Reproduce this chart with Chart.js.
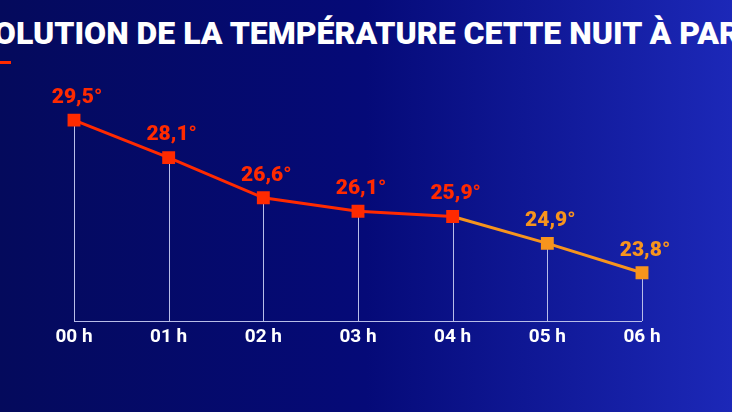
<!DOCTYPE html>
<html><head><meta charset="utf-8">
<script src="https://cdn.jsdelivr.net/npm/chart.js@4"></script>
<style>
html,body{margin:0;padding:0;overflow:hidden;}
body{width:732px;height:412px;background:linear-gradient(90deg,#040a5c 0%,#050a78 50%,#1c28b8 100%);position:relative;font-family:Roboto,sans-serif;}
#title{position:absolute;left:-45px;top:14px;white-space:nowrap;color:#fff;font:900 32px Roboto,sans-serif;letter-spacing:0px;}
#bar{position:absolute;left:0;top:61px;width:11px;height:3px;background:#ff2a00;}
#c{position:absolute;left:0;top:0;}
</style></head><body>
<div id="title">ÉVOLUTION DE LA TEMPÉRATURE CETTE NUIT À PARIS</div>
<div id="bar"></div>
<canvas id="c" width="732" height="412"></canvas>
<script>
const hours = ["00 h","01 h","02 h","03 h","04 h","05 h","06 h"];
const temps = [29.5,28.1,26.6,26.1,25.9,24.9,23.8];
const labels = ["29,5°","28,1°","26,6°","26,1°","25,9°","24,9°","23,8°"];
const RED="#ff2a00", ORANGE="#f7941d";
const ptColor = temps.map((v,i)=> i>=5?ORANGE:RED);
const deco = {
  id:'deco',
  beforeDatasetsDraw(ch){
    const {ctx,scales:{x,y}}=ch; const base=y.getPixelForValue(22);
    ctx.save(); ctx.strokeStyle="#b8bde8"; ctx.lineWidth=1;
    ctx.beginPath(); ctx.moveTo(x.getPixelForValue(0),base+0.5); ctx.lineTo(x.getPixelForValue(6),base+0.5); ctx.stroke();
    temps.forEach((v,i)=>{const px=Math.round(x.getPixelForValue(i))+0.5; ctx.beginPath(); ctx.moveTo(px,y.getPixelForValue(v)); ctx.lineTo(px,base); ctx.stroke();});
    ctx.fillStyle="#fff"; ctx.font="bold 19px Roboto"; ctx.textAlign="center"; ctx.textBaseline="top";
    hours.forEach((h,i)=>ctx.fillText(h,x.getPixelForValue(i),base+7));
    ctx.restore();
  },
  afterDatasetsDraw(ch){
    const {ctx,scales:{x,y}}=ch;
    ctx.save(); ctx.font="900 21px Roboto"; ctx.textAlign="center"; ctx.textBaseline="bottom";
    temps.forEach((v,i)=>{ctx.fillStyle=ptColor[i]; ctx.fillText(labels[i],x.getPixelForValue(i)+3,y.getPixelForValue(v)-12);});
    ctx.restore();
  }
};
new Chart(document.getElementById('c'),{
  type:'line',
  data:{labels:hours,datasets:[{data:temps,borderWidth:3,borderColor:RED,
    segment:{borderColor:c=>c.p0DataIndex>=4?ORANGE:RED},
    pointStyle:'rect',pointRadius:7,pointBackgroundColor:ptColor,pointBorderColor:ptColor,tension:0}]},
  options:{responsive:false,animation:false,
    layout:{padding:{left:74,right:90,top:80,bottom:91}},
    plugins:{legend:{display:false},tooltip:{enabled:false}},
    scales:{x:{display:false,offset:false},y:{display:false,min:22,max:31}}},
  plugins:[deco]
});
</script></body></html>
